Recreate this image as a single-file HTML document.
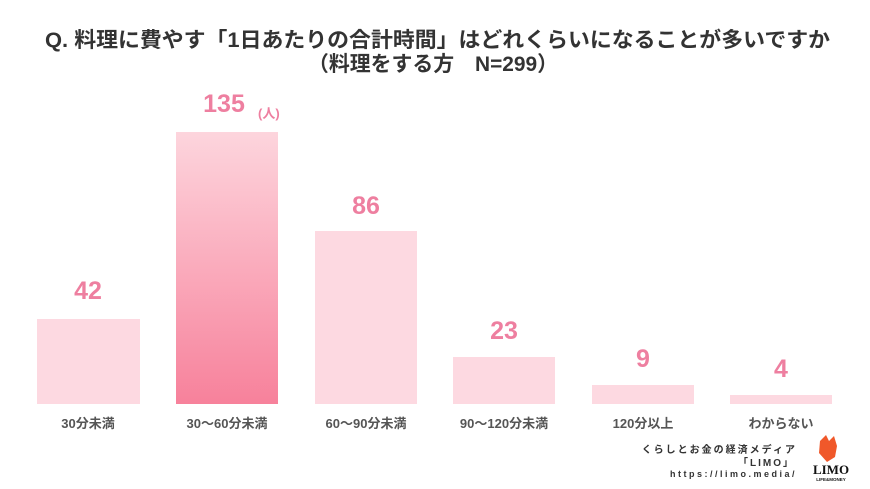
<!DOCTYPE html>
<html><head><meta charset="utf-8"><style>
body{margin:0;background:#fff;}
svg{display:block;}
</style></head><body>
<svg width="870" height="489" viewBox="0 0 870 489" xmlns="http://www.w3.org/2000/svg" font-family="'Liberation Sans','Noto Sans CJK JP',sans-serif">
<defs>
<linearGradient id="g" x1="0" y1="0" x2="0" y2="1">
<stop offset="0" stop-color="#fdd5dd"/>
<stop offset="1" stop-color="#f7819b"/>
</linearGradient>
</defs>
<text x="45" y="47" font-size="21" font-weight="bold" fill="#333" textLength="785" lengthAdjust="spacingAndGlyphs">Q. 料理に費やす「1日あたりの合計時間」はどれくらいになることが多いですか</text>
<text x="308" y="71" font-size="21" font-weight="bold" fill="#333" textLength="250" lengthAdjust="spacingAndGlyphs">（料理をする方　N=299）</text>
<g fill="#fdd9e1">
<rect x="37" y="319" width="103" height="85"/>
<rect x="315" y="231" width="102" height="173"/>
<rect x="453" y="357" width="102" height="47"/>
<rect x="592" y="385" width="102" height="19"/>
<rect x="730" y="395" width="102" height="9"/>
</g>
<rect x="176" y="132" width="102" height="272" fill="url(#g)"/>
<g fill="#ee7fa0" font-size="25" font-weight="bold" text-anchor="middle">
<text x="88" y="299">42</text>
<text x="224" y="112">135</text>
<text x="366" y="214">86</text>
<text x="504" y="339">23</text>
<text x="643" y="367">9</text>
<text x="781" y="377">4</text>
</g>
<text x="258" y="118" font-size="13" font-weight="bold" fill="#ee7fa0">(人)</text>
<g fill="#555" font-size="13" font-weight="bold" text-anchor="middle">
<text x="88" y="428">30分未満</text>
<text x="227" y="428">30〜60分未満</text>
<text x="366" y="428">60〜90分未満</text>
<text x="504" y="428">90〜120分未満</text>
<text x="643" y="428">120分以上</text>
<text x="781" y="428">わからない</text>
</g>
<g fill="#333" font-size="10" font-weight="bold" text-anchor="end">
<text x="797" y="453" letter-spacing="2">くらしとお金の経済メディア</text>
<text x="795" y="466" letter-spacing="2">「LIMO」</text>
<text x="797" y="477" letter-spacing="2.5" font-size="9">https://limo.media/</text>
</g>
<path d="M820 441 L826 435 L829 441 L834 436 L837 446 L835 457 L827 462 L819 453 Z" fill="#f0582a"/>
<text x="831" y="474" font-size="13" font-weight="bold" fill="#111" text-anchor="middle" font-family="'Liberation Serif',serif">LIMO</text>
<text x="831" y="481" font-size="4.5" font-weight="bold" fill="#111" text-anchor="middle">LIFE&amp;MONEY</text>
</svg>
</body></html>
